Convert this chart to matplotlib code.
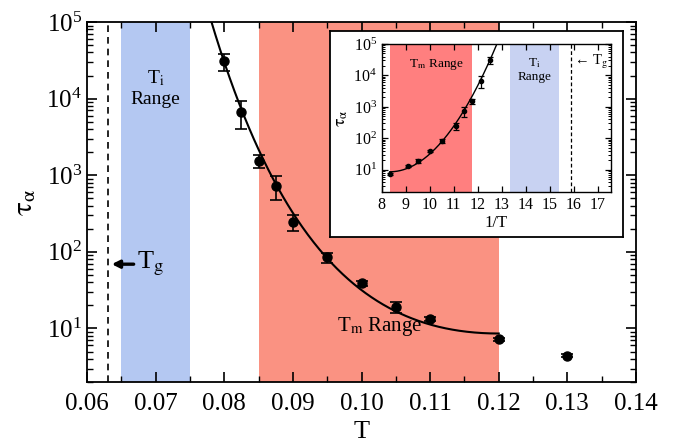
import numpy as np
import matplotlib
matplotlib.use('Agg')
import matplotlib.pyplot as plt
from matplotlib.ticker import LogLocator, MultipleLocator, LogFormatterMathtext, NullFormatter

plt.rcParams['font.family'] = ['Liberation Serif', 'DejaVu Serif']
plt.rcParams['mathtext.fontset'] = 'stix'

# data
T = [0.08, 0.0825, 0.085, 0.0875, 0.09, 0.095, 0.10, 0.105, 0.11, 0.12, 0.13]
tau = [31000, 6600, 1550, 730, 243, 85, 39, 18.8, 13.3, 7.2, 4.4]
tau_lo = [22900, 4000, 1230, 480, 187, 72, 36, 16, 12.4, 6.9, 4.2]
tau_hi = [38200, 9300, 1820, 980, 300, 98, 42, 22, 14.3, 7.6, 4.6]

# parabolic fit: log10(tau) = a + b*(1/T - 1/T0)^2
fit_a = 0.934
fit_b = 0.204
fit_T0 = 0.12
fit_Tlow = 0.078

Tg = 0.063
Ti_range = (0.065, 0.075)
Tm_range = (0.085, 0.12)

red_main = '#fa9282'
blue_main = '#b4c8f2'
red_in = '#ff7f7f'
blue_in = '#c8d2f2'

T = np.array(T)
tau = np.array(tau)
yerr = [tau - np.array(tau_lo), np.array(tau_hi) - tau]

Tfit = np.linspace(fit_Tlow, fit_T0, 300)
taufit = 10 ** (fit_a + fit_b * (1 / Tfit - 1 / fit_T0) ** 2)

fig = plt.figure(figsize=(6.73, 4.43), dpi=100)
ax = fig.add_axes([87 / 673, 61 / 443, 549 / 673, 360 / 443])

ax.axvspan(*Ti_range, color=blue_main, lw=0, zorder=0)
ax.axvspan(*Tm_range, color=red_main, lw=0, zorder=0)
ax.axvline(Tg, color='k', ls=(0, (4, 3)), lw=1.2)
ax.plot(Tfit, taufit, color='k', lw=1.5, zorder=3)
ax.errorbar(T, tau, yerr=yerr, fmt='o', color='k', ms=6.5, capsize=4.5,
            elinewidth=1.2, capthick=1.2, zorder=4)

ax.set_yscale('log')
ax.set_xlim(0.06, 0.14)
ax.set_ylim(2, 1e5)
ax.xaxis.set_major_locator(MultipleLocator(0.01))
ax.xaxis.set_minor_locator(MultipleLocator(0.005))
ax.xaxis.set_major_formatter(plt.FuncFormatter(lambda v, p: f'{v:.2f}'))
ax.yaxis.set_major_locator(LogLocator(base=10, numticks=10))
ax.yaxis.set_minor_locator(LogLocator(base=10, subs=np.arange(2, 10), numticks=10))
ax.yaxis.set_major_formatter(LogFormatterMathtext())
ax.yaxis.set_minor_formatter(NullFormatter())
ax.tick_params(which='both', direction='in', top=True, right=True, labelsize=18)
ax.tick_params(which='major', length=7, width=1.2)
ax.tick_params(which='minor', length=4, width=1.0)
ax.tick_params(axis='x', pad=8)
for s in ax.spines.values():
    s.set_linewidth(1.3)
ax.set_xlabel('T', fontsize=19, labelpad=4)
ax.set_ylabel(r'$\mathrm{\tau_\alpha}$', fontsize=21, labelpad=6)

ax.text(0.070, 13800, 'T$_\\mathrm{i}$\nRange', ha='center', va='center', fontsize=14,
        linespacing=1.2)
ax.text(0.1027, 10.5, 'T$_\\mathrm{m}$ Range', ha='center', va='center', fontsize=15)
ax.annotate('', xy=(0.0636, 69), xytext=(0.0668, 69),
            arrowprops=dict(arrowstyle='-|>', color='k', lw=2.4, mutation_scale=11,
                            shrinkA=0, shrinkB=0))
ax.text(0.0673, 69, 'T$_\\mathrm{g}$', ha='left', va='center', fontsize=19)

# white frame behind inset
frame = fig.add_axes([330 / 673, (443 - 237) / 443, 293 / 673, 206 / 443])
frame.set_xticks([])
frame.set_yticks([])
frame.set_facecolor('white')
for s in frame.spines.values():
    s.set_linewidth(1.3)

axi = fig.add_axes([381.7 / 673, (443 - 191.7) / 443, 229.3 / 673, 147.7 / 443])
axi.axvspan(1 / Tm_range[1], 1 / Tm_range[0], color=red_in, lw=0, zorder=0)
axi.axvspan(1 / Ti_range[1], 1 / Ti_range[0], color=blue_in, lw=0, zorder=0)
axi.axvline(1 / Tg, color='k', ls=(0, (3, 2)), lw=0.9)
axi.plot(1 / Tfit, taufit, color='k', lw=1.0, zorder=3)
axi.errorbar(1 / T, tau, yerr=yerr, fmt='o', color='k', ms=3, capsize=2.2,
             elinewidth=0.9, capthick=0.9, zorder=4)
axi.set_yscale('log')
axi.set_xlim(8, 17.55)
axi.set_ylim(2, 1e5)
axi.xaxis.set_major_locator(MultipleLocator(1))
axi.yaxis.set_major_locator(LogLocator(base=10, numticks=10))
axi.yaxis.set_minor_locator(LogLocator(base=10, subs=np.arange(2, 10), numticks=10))
axi.yaxis.set_major_formatter(LogFormatterMathtext())
axi.yaxis.set_minor_formatter(NullFormatter())
axi.tick_params(which='both', direction='in', top=True, right=True, labelsize=11.5)
axi.tick_params(which='major', length=4, width=0.9)
axi.tick_params(which='minor', length=2, width=0.7)
for s in axi.spines.values():
    s.set_linewidth(1.0)
axi.set_xlabel('1/T', fontsize=12, labelpad=2)
axi.set_ylabel(r'$\mathrm{\tau_\alpha}$', fontsize=13, labelpad=2)

axi.text(10.26, 23000, 'T$_\\mathrm{m}$ Range', ha='center', va='center', fontsize=9.5)
axi.text(14.35, 15000, 'T$_\\mathrm{i}$\nRange', ha='center', va='center', fontsize=9.5,
         linespacing=1.15)
axi.text(16.0, 27000, '\u2190 T$_\\mathrm{g}$', ha='left', va='center', fontsize=10.5)

fig.savefig('out.png', dpi=100)
